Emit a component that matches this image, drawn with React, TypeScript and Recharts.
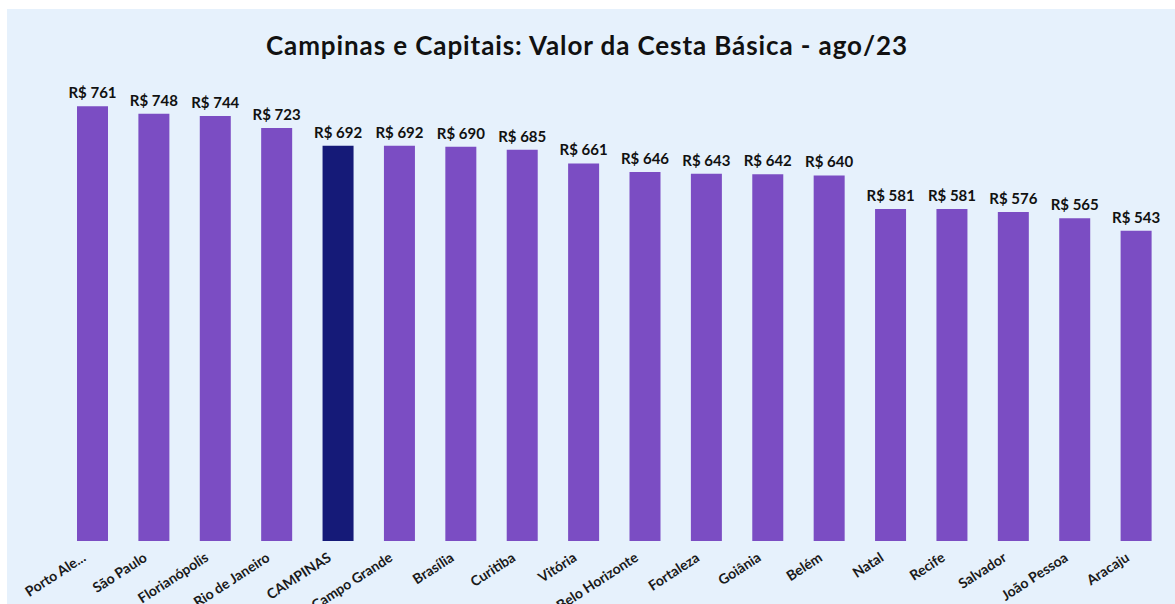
import React from "react";
import { BarChart, Bar, XAxis, YAxis, Cell, LabelList } from "recharts";

const categories = [
  "Porto Ale...",
  "São Paulo",
  "Florianópolis",
  "Rio de Janeiro",
  "CAMPINAS",
  "Campo Grande",
  "Brasília",
  "Curitiba",
  "Vitória",
  "Belo Horizonte",
  "Fortaleza",
  "Goiânia",
  "Belém",
  "Natal",
  "Recife",
  "Salvador",
  "João Pessoa",
  "Aracaju",
];
const values = [761, 748, 744, 723, 692, 692, 690, 685, 661, 646, 643, 642, 640, 581, 581, 576, 565, 543];
const highlighted = "CAMPINAS";
const title = "Campinas e Capitais: Valor da Cesta Básica - ago/23";

const data = categories.map((name, i) => ({ name, value: values[i] }));

const FONT = "Lato, 'Open Sans', sans-serif";

const Tick = (props: any) => {
  const { x, y, payload } = props;
  return (
    <g transform={`translate(${x - 6},${y + 19})`}>
      <text
        textAnchor="end"
        transform="rotate(-33)"
        fontFamily={FONT}
        fontWeight={700}
        fontSize={14}
        fill="#1a1a1a"
      >
        {payload.value}
      </text>
    </g>
  );
};

const ValueLabel = (props: any) => {
  const { x, y, width, value } = props;
  return (
    <text
      x={x + width / 2}
      y={y - 8}
      textAnchor="middle"
      fontFamily={FONT}
      fontWeight={700}
      fontSize={15}
      fill="#111111"
    >
      {`R$ ${value}`}
    </text>
  );
};

export default function App() {
  return (
    <div
      style={{
        position: "absolute",
        left: 0,
        top: 0,
        width: 1175,
        height: 604,
        background: "#ffffff",
        overflow: "hidden",
      }}
    >
      <div
        style={{
          position: "absolute",
          left: 7,
          top: 9,
          right: 0,
          bottom: 0,
          background: "#E6F1FC",
        }}
      />
      <div style={{ position: "absolute", left: 0, top: 0 }}>
        <BarChart
          width={1175}
          height={604}
          data={data}
          margin={{ top: 84, right: 8, bottom: 0, left: 62 }}
          barCategoryGap={0}
        >
          <XAxis
            dataKey="name"
            interval={0}
            height={63}
            tickLine={false}
            axisLine={false}
            tickSize={0}
            tickMargin={0}
            tick={<Tick />}
          />
          <YAxis hide domain={[0, 800]} />
          <Bar dataKey="value" barSize={31} isAnimationActive={false}>
            {data.map((d) => (
              <Cell key={d.name} fill={d.name === highlighted ? "#151A78" : "#7B4DC3"} />
            ))}
            <LabelList dataKey="value" content={<ValueLabel />} />
          </Bar>
        </BarChart>
      </div>
      <svg
        width={1175}
        height={604}
        style={{ position: "absolute", left: 0, top: 0, pointerEvents: "none" }}
      >
        <text
          x={586.5}
          y={55}
          textAnchor="middle"
          fontFamily={FONT}
          fontWeight={700}
          fontSize={26}
          textLength={641}
          lengthAdjust="spacing"
          fill="#111111"
        >
          {title}
        </text>
      </svg>
    </div>
  );
}
